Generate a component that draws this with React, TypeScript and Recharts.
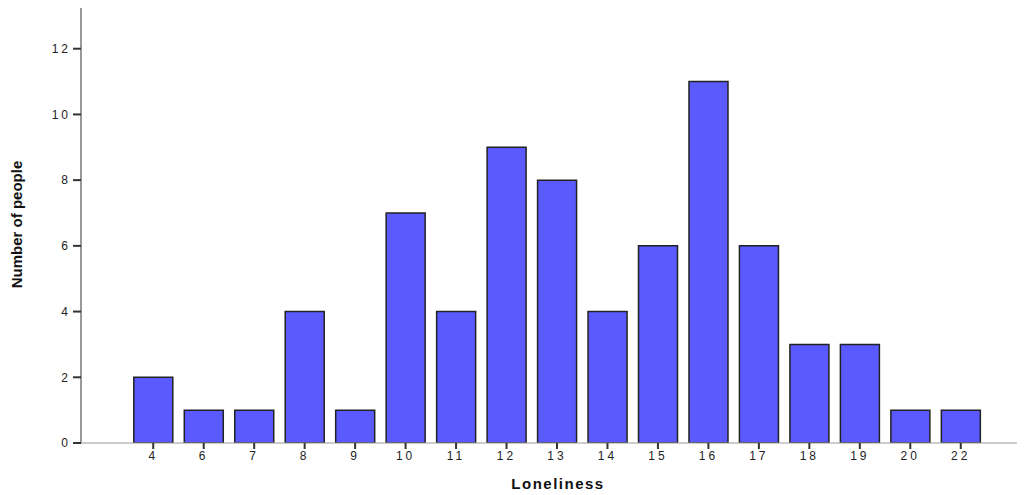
import { BarChart, Bar, XAxis, YAxis } from 'recharts';

// Loneliness score -> number of people
const scores = ['4', '6', '7', '8', '9', '10', '11', '12', '13', '14', '15', '16', '17', '18', '19', '20', '22'];
const counts = [2, 1, 1, 4, 1, 7, 4, 9, 8, 4, 6, 11, 6, 3, 3, 1, 1];
const yTicks = [0, 2, 4, 6, 8, 10, 12];

const data = scores.map((s, i) => ({ score: s, count: counts[i] }));

const tickFont = { fontFamily: 'Liberation Sans, Arial, sans-serif', fontSize: 12, fill: '#222', letterSpacing: 3 };

export default function App() {
  return (
    <div style={{ margin: '-8px 0 0 -8px', width: 1025, height: 495, background: '#fff' }}>
      <BarChart
        width={1025}
        height={495}
        data={data}
        margin={{ top: 6, right: 0, bottom: 0, left: 0 }}
        barCategoryGap="11.5%"
      >
        <XAxis
          dataKey="score"
          height={52}
          padding={{ left: 47, right: 39 }}
          stroke="#999"
          tickSize={6}
          tickMargin={2}
          tickLine={{ stroke: '#333', strokeWidth: 2 }}
          tick={tickFont}
          label={{
            value: 'Loneliness',
            position: 'insideBottom',
            offset: 6,
            dx: 5,
            style: { fontFamily: 'Liberation Sans, Arial, sans-serif', fontSize: 15, fontWeight: 'bold', fill: '#111', letterSpacing: 1.5 },
          }}
        />
        <YAxis
          width={81}
          domain={[0, 13.3]}
          ticks={yTicks}
          allowDataOverflow
          stroke="#999"
          strokeWidth={2}
          tickSize={8}
          tickMargin={2}
          tickLine={{ stroke: '#333', strokeWidth: 2 }}
          tick={tickFont}
          label={{
            value: 'Number of people',
            angle: -90,
            position: 'insideLeft',
            offset: 17,
            style: { textAnchor: 'middle', fontFamily: 'Liberation Sans Narrow, Arial Narrow, Liberation Sans, sans-serif', fontSize: 15, fontWeight: 'bold', fill: '#111', fontStretch: 'condensed' },
          }}
        />
        <Bar dataKey="count" fill="#5a5aff" stroke="#222" strokeWidth={1.5} isAnimationActive={false} />
      </BarChart>
    </div>
  );
}
